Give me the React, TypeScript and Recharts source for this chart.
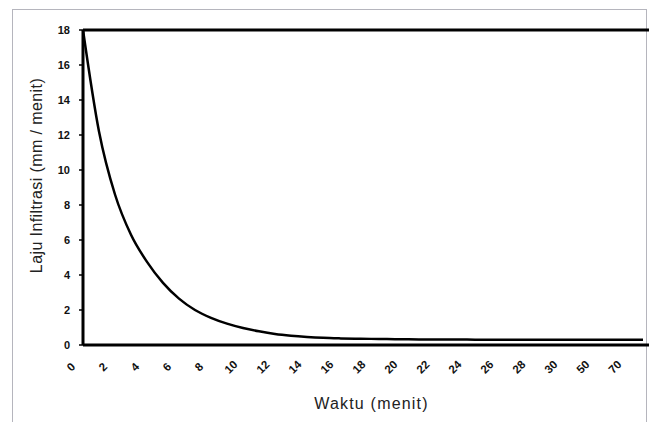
import React from 'react';
import {
  LineChart,
  Line,
  XAxis,
  YAxis,
  ReferenceLine,
  Label,
} from 'recharts';

// waktu (menit) - label shown on every second category, last one unlabelled
const waktu = [
  0, 1, 2, 3, 4, 5, 6, 7, 8, 9, 10, 11, 12, 13, 14, 15, 16, 17, 18, 19, 20,
  21, 22, 23, 24, 25, 26, 27, 28, 29, 30, 40, 50, 60, 70, 80,
];

// laju infiltrasi (mm / menit)
const laju = [
  18, 12.2, 8.6, 6.3, 4.75, 3.55, 2.65, 2.0, 1.55, 1.22, 0.97, 0.78, 0.63,
  0.53, 0.46, 0.41, 0.38, 0.36, 0.35, 0.34, 0.33, 0.32, 0.32, 0.31, 0.31, 0.3,
  0.3, 0.3, 0.3, 0.3, 0.3, 0.3, 0.3, 0.3, 0.3, 0.3,
];

const yTicks = [0, 2, 4, 6, 8, 10, 12, 14, 16, 18];

const data = waktu.map((t, i) => ({ waktu: String(t), laju: laju[i] }));

const FONT = '"Liberation Sans", Arial, sans-serif';

const XTick = ({ x, y, payload }: any) => (
  <g transform={`translate(${x - 12},${y + 22}) rotate(-45)`}>
    <text
      textAnchor="middle"
      dominantBaseline="central"
      fontFamily={FONT}
      fontSize={11.5}
      fontWeight="bold"
      fill="#111"
    >
      {payload.value}
    </text>
  </g>
);

export default function App() {
  return (
    <div
      style={{
        position: 'fixed',
        left: 0,
        top: 0,
        width: 649,
        height: 422,
        overflow: 'hidden',
        background: '#fff',
      }}
    >
      <div
        style={{
          position: 'absolute',
          left: 12,
          top: 9,
          width: 633,
          height: 430,
          border: '1px solid #b5b5bd',
        }}
      />
      <div style={{ position: 'absolute', left: 0, top: 0 }}>
        <LineChart
          width={700}
          height={422}
          data={data}
          margin={{ top: 30, right: 40, bottom: 47, left: 0 }}
          style={{ overflow: 'visible' }}
        >
          <XAxis
            dataKey="waktu"
            interval={1}
            height={30}
            padding={{ left: 0, right: 17 }}
            tickSize={0}
            tickMargin={0}
            tickLine={false}
            axisLine={{ stroke: '#000', strokeWidth: 3 }}
            tick={<XTick />}
          >
            <Label
              content={({ viewBox }: any) => (
                <text
                  x={viewBox.x + viewBox.width / 2}
                  y={viewBox.y + 58}
                  textAnchor="middle"
                  dominantBaseline="central"
                  fontFamily={FONT}
                  fontSize={16}
                  letterSpacing={1.2}
                  fill="#222"
                >
                  Waktu (menit)
                </text>
              )}
            />
          </XAxis>
          <YAxis
            width={83}
            domain={[0, 18]}
            ticks={yTicks}
            interval={0}
            tickSize={4}
            tickMargin={9}
            tickLine={{ stroke: '#000', strokeWidth: 1.5 }}
            axisLine={{ stroke: '#000', strokeWidth: 3 }}
            tick={{
              fontFamily: FONT,
              fontSize: 11,
              fontWeight: 'bold',
              fill: '#111',
            }}
          >
            <Label
              content={({ viewBox }: any) => {
                const cx = viewBox.x + 36;
                const cy = viewBox.y + viewBox.height / 2 - 12;
                return (
                  <text
                    x={cx}
                    y={cy}
                    transform={`rotate(-90, ${cx}, ${cy})`}
                    textAnchor="middle"
                    dominantBaseline="central"
                    fontFamily={FONT}
                    fontSize={16}
                    letterSpacing={0.4}
                    fill="#222"
                  >
                    Laju Infiltrasi (mm / menit)
                  </text>
                );
              }}
            />
          </YAxis>
          <ReferenceLine
            y={18}
            stroke="#000"
            strokeWidth={3}
            ifOverflow="visible"
          />
          <Line
            type="monotone"
            dataKey="laju"
            stroke="#000"
            strokeWidth={2.5}
            dot={false}
            isAnimationActive={false}
          />
        </LineChart>
      </div>
    </div>
  );
}
